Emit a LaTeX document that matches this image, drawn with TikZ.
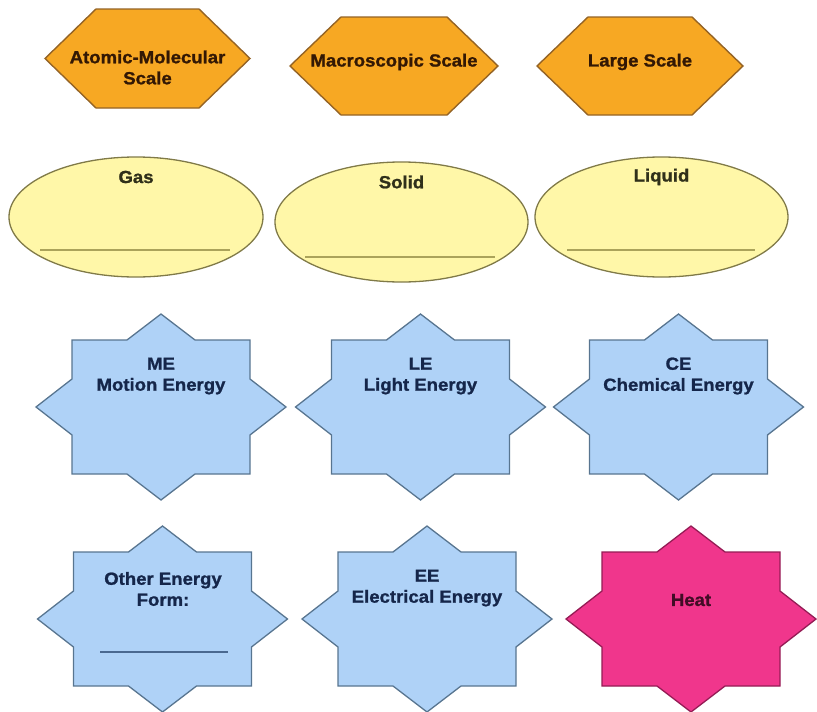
\documentclass[tikz,border=0pt]{standalone}
\usepackage{fontspec}
\setmainfont{Liberation Sans}[BoldFeatures={FakeBold=1.2, FakeStretch=1.06}]
\definecolor{hexfill}{HTML}{F7A823}
\definecolor{hexdraw}{HTML}{946325}
\definecolor{hextext}{HTML}{331804}
\definecolor{ellfill}{HTML}{FFF7A8}
\definecolor{elldraw}{HTML}{807A48}
\definecolor{ellline}{HTML}{ABA35A}
\definecolor{elltext}{HTML}{30301A}
\definecolor{starfill}{HTML}{AFD2F7}
\definecolor{stardraw}{HTML}{587590}
\definecolor{startext}{HTML}{15264A}
\definecolor{starline}{HTML}{4A6990}
\definecolor{heatfill}{HTML}{F0368C}
\definecolor{heatdraw}{HTML}{951C55}
\definecolor{heattext}{HTML}{420C26}
\tikzset{
  lbl/.style={font=\fontsize{17.5}{21}\selectfont\bfseries, align=center, inner sep=0pt},
  hexshape/.style={fill=hexfill, draw=hexdraw, line width=1.4pt, line join=miter},
  ellshape/.style={fill=ellfill, draw=elldraw, line width=1.3pt},
  starshape/.style={fill=starfill, draw=stardraw, line width=1.3pt, line join=miter},
  heatshape/.style={fill=heatfill, draw=heatdraw, line width=1.3pt, line join=miter},
  blankline/.style={line width=2.6pt}
}
\newcommand\hexat[4]{% cx cy halfw halfh
  \draw[hexshape] (#1-#3,#2) -- (#1-#3+51,#2-#4) -- (#1+#3-51,#2-#4) -- (#1+#3,#2)
     -- (#1+#3-51,#2+#4) -- (#1-#3+51,#2+#4) -- cycle;}
\newcommand\starat[3]{% cx cy style
  \draw[#3] (#1,#2-93) -- (#1+34,#2-67) -- (#1+89,#2-67) -- (#1+89,#2-28) -- (#1+125,#2)
    -- (#1+89,#2+28) -- (#1+89,#2+67) -- (#1+34,#2+67) -- (#1,#2+93) -- (#1-34,#2+67)
    -- (#1-89,#2+67) -- (#1-89,#2+28) -- (#1-125,#2) -- (#1-89,#2-28) -- (#1-89,#2-67)
    -- (#1-34,#2-67) -- cycle;}
\begin{document}
\begin{tikzpicture}[x=1pt,y=-1pt]
\useasboundingbox (0,0) rectangle (817,712);
% hexagons
\hexat{147.5}{58.5}{102.5}{49.5}
\hexat{394}{66}{104}{49}
\hexat{640}{66}{103}{49}
\node[lbl, text=hextext] (atomic) at (147.5,67.5) {Atomic-Molecular\\Scale};
\node[lbl, text=hextext] (macro) at (394,62) {Macroscopic Scale};
\node[lbl, text=hextext] (large) at (640,62) {Large Scale};
% ellipses
\draw[ellshape] (136,217) ellipse [x radius=127, y radius=60];
\draw[ellshape] (401.5,222) ellipse [x radius=126.5, y radius=60];
\draw[ellshape] (661.5,217) ellipse [x radius=126.5, y radius=60];
\node[lbl, text=elltext] (gas) at (136,177) {Gas};
\node[lbl, text=elltext] (solid) at (401.5,182) {Solid};
\node[lbl, text=elltext] (liquid) at (661.5,177) {Liquid};
\coordinate (gasL) at (40,250); \coordinate (gasR) at (230,250);
\coordinate (solL) at (305,257); \coordinate (solR) at (495,257);
\coordinate (liqL) at (567,250); \coordinate (liqR) at (755,250);
\draw[blankline, draw=ellline] (gasL) -- (gasR);
\draw[blankline, draw=ellline] (solL) -- (solR);
\draw[blankline, draw=ellline] (liqL) -- (liqR);
% stars row 3
\starat{161}{407}{starshape}
\starat{420.5}{407}{starshape}
\starat{678.5}{407}{starshape}
\node[lbl, text=startext] (me) at (161,376) {ME\\Motion Energy};
\node[lbl, text=startext] (le) at (420.5,376) {LE\\Light Energy};
\node[lbl, text=startext] (ce) at (678.5,376) {CE\\Chemical Energy};
% stars row 4
\starat{162.5}{619}{starshape}
\starat{427}{619}{starshape}
\starat{691}{619}{heatshape}
\node[lbl, text=startext] (other) at (163,589) {Other Energy\\Form:};
\node[lbl, text=startext] (ee) at (427,588) {EE\\Electrical Energy};
\node[lbl, text=heattext] (heat) at (691,600) {Heat};
\coordinate (othL) at (100,652); \coordinate (othR) at (228,652);
\draw[blankline, draw=starline] (othL) -- (othR);
\end{tikzpicture}
\end{document}
